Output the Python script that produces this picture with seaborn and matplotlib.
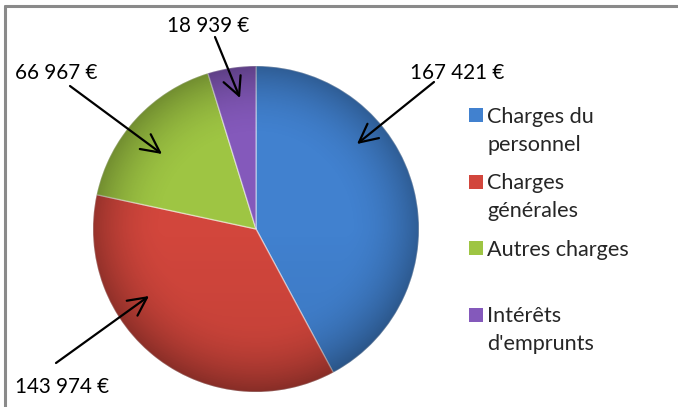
import numpy as np
import pandas as pd
import seaborn as sns
import matplotlib
matplotlib.use("Agg")
import matplotlib.pyplot as plt
from matplotlib.patches import Rectangle, Circle
from matplotlib.legend_handler import HandlerPatch

# ---- data ----
categories = ["Charges du\npersonnel", "Charges\ngénérales", "Autres charges\n ", "Intérêts\nd'emprunts"]
values = [167421, 143974, 66967, 18939]
value_labels = ["167 421 €", "143 974 €", "66 967 €", "18 939 €"]
colors = ["#4181CF", "#D2463C", "#9EC543", "#8459BB"]

df = pd.DataFrame({"category": categories, "value": values, "label": value_labels, "color": colors})

sns.set_theme(style="white")
plt.rcParams["font.family"] = ["Lato", "DejaVu Sans"]

W, H = 678, 407
fig = plt.figure(figsize=(W / 100, H / 100), dpi=100)
fig.patch.set_facecolor("white")

# pie axes: center (256,229) px, radius 163 px
cx, cy, R = 256, 229, 163
ax = fig.add_axes([(cx - R) / W, (H - cy - R) / H, 2 * R / W, 2 * R / H])
wedges, _ = ax.pie(df["value"], colors=df["color"], startangle=90, counterclock=False,
                   wedgeprops=dict(edgecolor=(1, 1, 1, 0.45), linewidth=1.0))
ax.set_xlim(-1, 1)
ax.set_ylim(-1, 1)
ax.set_aspect("equal")

# shading overlay (darker rim)
n = 400
yy, xx = np.mgrid[1:-1:n * 1j, -1:1:n * 1j]
rr = np.sqrt(xx ** 2 + yy ** 2)
shade = np.zeros((n, n, 4))
shade[..., 3] = np.clip((rr - 0.55) / 0.45, 0, 1) ** 2 * 0.28 + np.clip(-yy, 0, 1) * 0.08
img = ax.imshow(shade, extent=[-1, 1, -1, 1], zorder=5, interpolation="bilinear")
img.set_clip_path(Circle((0, 0), 1.0, transform=ax.transData))

def px2d(px, py):
    return ((px - cx) / R, (cy - py) / R)

# label & arrow layout (pixel positions, order = data order)
label_pos = [(457, 73), (62, 387), (56, 73), (208, 26)]
arrow_tail = [(434, 82), (56, 363), (70, 86), (215, 37)]
arrow_tip = [(357, 144), (149, 296), (162, 154), (240, 98)]

for lab, lp, at, ah in zip(df["label"], label_pos, arrow_tail, arrow_tip):
    ax.text(*px2d(*lp), lab, ha="center", va="center", fontsize=14.9, color="black",
            clip_on=False, zorder=10)
    ax.annotate("", xy=px2d(*ah), xytext=px2d(*at), annotation_clip=False,
                arrowprops=dict(arrowstyle="->,head_length=1.1,head_width=0.55",
                                color="black", lw=1.6, shrinkA=0, shrinkB=0), zorder=10)

# legend
def make_square(legend, orig_handle, xdescent, ydescent, width, height, fontsize):
    s = 10.0
    return Rectangle((-xdescent + (width - s) / 2, -ydescent + (height - s) / 2 + 11.6), s, s)

handles = [Rectangle((0, 0), 1, 1, facecolor=c, edgecolor="none") for c in df["color"]]
leg = fig.legend(handles, df["category"], loc="upper left",
                 bbox_to_anchor=(468 / W, 1 - 107 / H), frameon=False, fontsize=15.6,
                 handlelength=0.74, handleheight=0.6, handletextpad=0.15, labelspacing=0.86,
                 borderaxespad=0, borderpad=0,
                 handler_map={Rectangle: HandlerPatch(patch_func=make_square)})
for t in leg.get_texts():
    t.set_linespacing(1.49)

# frame lines (top and left)
fig.add_artist(plt.Line2D([4.5 / W, 1.0], [1 - 5.5 / H, 1 - 5.5 / H], transform=fig.transFigure,
                          color="#8a8a8a", lw=2.2))
fig.add_artist(plt.Line2D([4.5 / W, 4.5 / W], [0, 1 - 5.5 / H], transform=fig.transFigure,
                          color="#8a8a8a", lw=2.2))

fig.savefig("out.png", dpi=100)
